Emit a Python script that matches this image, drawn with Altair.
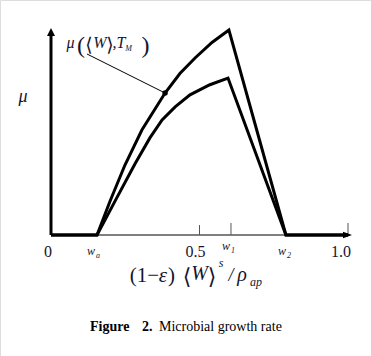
import altair as alt
import pandas as pd

# ---------------- data ----------------
w_a, w_1, w_2 = 0.155, 0.606, 0.791

upper_x = [0.0, 0.155, 0.199, 0.249, 0.306, 0.384, 0.434, 0.485, 0.542, 0.599, 0.791, 1.0]
upper_y = [0.0, 0.0, 0.164, 0.338, 0.507, 0.686, 0.780, 0.855, 0.930, 0.990, 0.0, 0.0]

lower_x = [0.0, 0.155, 0.216, 0.283, 0.333, 0.374, 0.418, 0.468, 0.535, 0.596, 0.791, 1.0]
lower_y = [0.0, 0.0, 0.165, 0.344, 0.469, 0.556, 0.619, 0.677, 0.726, 0.758, 0.0, 0.0]

marker_x = [0.384]
marker_y = [0.686]

tick_values = [0.5, w_1, 1.0]
tick_heights = [0.048, 0.058, 0.058]

num_label_values = [0.0, 0.5, 1.0]
num_label_texts = ["0", "0.5", "1.0"]

w_label_values = [w_a, w_1, w_2]
w_label_subs = ["a", "1", "2"]

# ---------------- geometry (pixel frame) ----------------
W, H = 371, 356
X0, XS = 51.0, 297.0    # pixel of x=0, pixels per unit
Y0, YS = 235.0, 207.0   # pixel of y=0, pixels per unit


def X(px):
    return (px - X0) / XS


def Y(py):
    return (Y0 - py) / YS


xs = alt.Scale(domain=[X(0), X(W)], nice=False, zero=False)
ys = alt.Scale(domain=[Y(H), Y(0)], nice=False, zero=False)
FONT = "Liberation Serif"
INK = "#15152e"

curves = pd.DataFrame(
    {
        "x": upper_x + lower_x,
        "y": upper_y + lower_y,
        "curve": ["upper"] * len(upper_x) + ["lower"] * len(lower_x),
        "order": list(range(len(upper_x))) + list(range(len(lower_x))),
    }
)

base_x = alt.X("x:Q", scale=xs, axis=None)
base_y = alt.Y("y:Q", scale=ys, axis=None)

curve_layer = (
    alt.Chart(curves)
    .mark_line(color="black", strokeWidth=3, strokeJoin="miter")
    .encode(x=base_x, y=base_y, detail="curve:N", order="order:Q")
)

# axes
y_axis = (
    alt.Chart(pd.DataFrame({"x": [0.0], "y": [0.0], "y2": [Y(34)]}))
    .mark_rule(color="black", strokeWidth=3)
    .encode(x=base_x, y=base_y, y2="y2:Q")
)
x_axis = (
    alt.Chart(pd.DataFrame({"x": [0.0], "y": [0.0], "x2": [1.0]}))
    .mark_rule(color="black", strokeWidth=1)
    .encode(x=base_x, x2="x2:Q", y=base_y)
)
arrow_up = (
    alt.Chart(pd.DataFrame({"x": [0.0], "y": [Y(32)]}))
    .mark_point(shape="M0,-1L1,1L-1,1Z", size=64, filled=True, color="black", opacity=1)
    .encode(x=base_x, y=base_y)
)
arrow_right = (
    alt.Chart(pd.DataFrame({"x": [X(347.5)], "y": [0.0]}))
    .mark_point(shape="M1,0L-1,-0.7L-1,0.7Z", size=81, filled=True, color="black", opacity=1)
    .encode(x=base_x, y=base_y)
)

ticks = (
    alt.Chart(pd.DataFrame({"x": tick_values, "y": [0.0] * 3, "y2": tick_heights}))
    .mark_rule(color="#555555", strokeWidth=1)
    .encode(x=base_x, y=base_y, y2="y2:Q")
)

marker = (
    alt.Chart(pd.DataFrame({"x": marker_x, "y": marker_y}))
    .mark_point(shape="circle", size=30, filled=True, color="black", opacity=1)
    .encode(x=base_x, y=base_y)
)

leader = (
    alt.Chart(pd.DataFrame({"x": [X(87)], "y": [Y(54)], "x2": marker_x, "y2": marker_y}))
    .mark_rule(color="black", strokeWidth=1)
    .encode(x=base_x, y=base_y, x2="x2:Q", y2="y2:Q")
)

# tick labels
num_dx = [-3, -4, -7]
num_layers = []
for v, t, dx in zip(num_label_values, num_label_texts, num_dx):
    num_layers.append(
        alt.Chart(pd.DataFrame({"x": [v], "t": [t], "y": [0.0]}))
        .mark_text(font=FONT, fontSize=16, color=INK, baseline="alphabetic", dy=22, dx=dx)
        .encode(x=base_x, y=base_y, text="t:N")
    )

w_dy = [20, 15, 20]
w_dx = [-6, -5, -4]
w_layers = []
for v, s, dy, dx in zip(w_label_values, w_label_subs, w_dy, w_dx):
    d = pd.DataFrame({"x": [v], "y": [0.0], "t": ["w"], "s": [s]})
    w_layers.append(
        alt.Chart(d)
        .mark_text(font=FONT, fontSize=12, fontStyle="italic", color=INK, baseline="alphabetic", dy=dy, dx=dx)
        .encode(x=base_x, y=base_y, text="t:N")
    )
    w_layers.append(
        alt.Chart(d)
        .mark_text(font=FONT, fontSize=8, fontStyle="italic", color=INK, baseline="alphabetic", dy=dy + 3, dx=dx + 7)
        .encode(x=base_x, y=base_y, text="s:N")
    )


def label(text, px, py, size, style="normal", weight="normal", align="center", color=INK, font=FONT):
    return (
        alt.Chart(pd.DataFrame({"t": [text]}))
        .mark_text(
            font=font,
            fontSize=size,
            fontStyle=style,
            fontWeight=weight,
            align=align,
            baseline="alphabetic",
            color=color,
        )
        .encode(x=alt.value(px), y=alt.value(py), text="t:N")
    )


BR = "DejaVu Serif"
texts = [
    # y label
    label("μ", 23, 102, 18, "italic"),
    # curve annotation
    label("μ", 70.5, 48, 16, "italic"),
    label("(", 81, 53, 24),
    label("⟨", 89, 51, 19, font=BR),
    label("W", 100, 48, 16, "italic"),
    label("⟩", 110, 51, 19, font=BR),
    label(",T", 119, 48, 16, "italic"),
    label("M", 128.5, 51, 8, "italic"),
    label(")", 145.5, 53, 24),
    # x title
    label("(1−", 144.5, 282, 21),
    label("ε", 163, 282, 21, "italic"),
    label(")", 171.5, 282, 21),
    label("⟨", 187, 284, 22, font=BR),
    label("W", 199.5, 280, 20, "italic"),
    label("⟩", 212, 284, 22, font=BR),
    label("s", 221, 267, 12, "italic"),
    label("/", 231, 281, 18, "italic"),
    label("ρ", 242, 281, 20, "italic"),
    label("ap", 256, 286, 12, "italic"),
    # caption
    label("Figure", 90, 331, 14, weight="bold", align="left", color="black"),
    label("2.", 142, 331, 14, weight="bold", align="left", color="black"),
    label("Microbial growth rate", 159, 331, 14, align="left", color="black"),
]

chart = (
    alt.layer(
        x_axis,
        ticks,
        curve_layer,
        y_axis,
        arrow_up,
        arrow_right,
        leader,
        marker,
        *num_layers,
        *w_layers,
        *texts,
    )
    .properties(width=W, height=H, autosize=alt.AutoSizeParams(type="none"), padding=0)
    .configure_view(stroke=None)
    .configure(background="white")
)

chart.save("out.html", embed_options={"renderer": "svg", "actions": False})
